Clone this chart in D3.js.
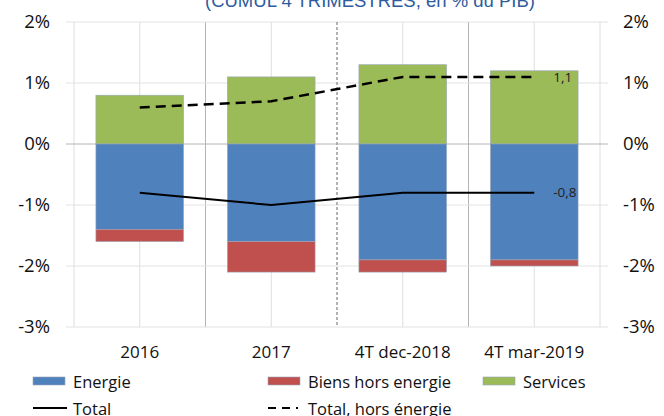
<!DOCTYPE html>
<html>
<head>
<meta charset="utf-8">
<script src="https://cdn.jsdelivr.net/npm/d3@7"></script>
<style>
  body { margin: 0; background: #fff; }
  svg text { font-family: "Open Sans", Lato, sans-serif; }
</style>
</head>
<body>
<div id="chart"></div>
<script>
var categories = ['2016', '2017', '4T dec-2018', '4T mar-2019']
var energie = [-1.4, -1.6, -1.9, -1.9]
var biens = [-0.2, -0.5, -0.2, -0.1]
var services = [0.8, 1.1, 1.3, 1.2]
var total = [-0.8, -1.0, -0.8, -0.8]
var totalHorsEnergie = [0.6, 0.7, 1.1, 1.1]
var yTicks = [2, 1, 0, -1, -2, -3]

var COLOR = { BLUE: '#4f81bd', RED: '#c0504d', GREEN: '#9bbb59' }

var width = 664, height = 416
var left = 74, right = 600

var svg = d3.select('#chart').append('svg')
  .attr('width', width)
  .attr('height', height)

var x = d3.scaleBand()
  .domain(categories)
  .range([left, right])
  .paddingInner(1 / 3)
  .paddingOuter(1 / 6)

var y = d3.scaleLinear()
  .domain([-3, 2])
  .range([327, 22])

var step = x.step()
var cx = d => x(d) + x.bandwidth() / 2

// title (cut at top, like the source)
svg.append('text')
  .attr('x', 370)
  .attr('y', 7)
  .attr('text-anchor', 'middle')
  .style('font-family', '"Liberation Sans", Arial, sans-serif')
  .attr('font-size', 18.5)
  .attr('fill', '#2e5c9e')
  .text('(CUMUL 4 TRIMESTRES, en % du PIB)')

// vertical grid
var vlines = d3.range(0, categories.length * 2 + 1).map(i => left + i * step / 2)
svg.selectAll('.vgrid')
  .data(vlines)
  .enter()
  .append('line')
  .attr('x1', d => d).attr('x2', d => d)
  .attr('y1', y(2)).attr('y2', y(-3))
  .attr('stroke', (d, i) => (i === 2 || i === 6) ? '#b4b4b4' : '#dedede')
  .attr('stroke-width', 1)
  .style('display', (d, i) => i === 4 ? 'none' : null)

// horizontal grid
svg.selectAll('.hgrid')
  .data(yTicks)
  .enter()
  .append('line')
  .attr('x1', left - 8).attr('x2', right + 8)
  .attr('y1', d => y(d)).attr('y2', d => y(d))
  .attr('stroke', d => d === 0 ? '#b4b4b4' : '#e2e2e2')
  .attr('stroke-width', 1)

// separator between years and quarters
svg.append('line')
  .attr('x1', left + step * 2).attr('x2', left + step * 2)
  .attr('y1', y(2)).attr('y2', y(-3))
  .attr('stroke', '#9a9a9a')
  .attr('stroke-width', 1.5)
  .attr('stroke-dasharray', '3,2')

// bars
function stack(vals, base, color) {
  svg.selectAll(null)
    .data(categories)
    .enter()
    .append('rect')
    .attr('x', d => x(d))
    .attr('width', x.bandwidth())
    .attr('y', (d, i) => y(Math.max(base ? base[i] : 0, (base ? base[i] : 0) + vals[i])))
    .attr('height', (d, i) => Math.abs(y(0) - y(vals[i])))
    .attr('fill', color)
    .attr('stroke', '#9aa6b8')
    .attr('stroke-width', 0.6)
}
stack(services, null, COLOR.GREEN)
stack(energie, null, COLOR.BLUE)
stack(biens, energie, COLOR.RED)

// lines
var line = d3.line()
  .x((d, i) => cx(categories[i]))
  .y(d => y(d))

svg.append('path')
  .datum(totalHorsEnergie)
  .attr('d', line)
  .attr('fill', 'none')
  .attr('stroke', '#000')
  .attr('stroke-width', 2.5)
  .attr('stroke-dasharray', '10,6')

svg.append('path')
  .datum(total)
  .attr('d', line)
  .attr('fill', 'none')
  .attr('stroke', '#000')
  .attr('stroke-width', 2)

// end labels
var last = categories.length - 1
svg.append('text')
  .attr('x', cx(categories[last]) + 19)
  .attr('y', y(totalHorsEnergie[last]) + 5)
  .attr('font-size', 13.5)
  .attr('fill', '#222')
  .text('1,1')
svg.append('text')
  .attr('x', cx(categories[last]) + 19)
  .attr('y', y(total[last]) + 4)
  .attr('font-size', 13.5)
  .attr('fill', '#222')
  .text('-0,8')

// y axis labels
var fmt = d => d + '%'
svg.selectAll('.ylabL')
  .data(yTicks)
  .enter()
  .append('text')
  .attr('x', 50)
  .attr('y', d => y(d) + 6)
  .attr('text-anchor', 'end')
  .attr('font-size', 18.5)
  .attr('fill', '#111')
  .text(fmt)
svg.selectAll('.ylabR')
  .data(yTicks)
  .enter()
  .append('text')
  .attr('x', 623)
  .attr('y', d => y(d) + 6)
  .attr('font-size', 18.5)
  .attr('fill', '#111')
  .text(fmt)

// category labels
svg.selectAll('.xlab')
  .data(categories)
  .enter()
  .append('text')
  .attr('x', cx)
  .attr('y', 358)
  .attr('text-anchor', 'middle')
  .attr('font-size', 17)
  .attr('fill', '#111')
  .text(d => d)

// legend
var legendBars = [
  { name: 'Energie', color: COLOR.BLUE, x: 33 },
  { name: 'Biens hors energie', color: COLOR.RED, x: 268 },
  { name: 'Services', color: COLOR.GREEN, x: 483 }
]
legendBars.forEach(function (d) {
  svg.append('rect')
    .attr('x', d.x).attr('y', 377)
    .attr('width', 32).attr('height', 8)
    .attr('fill', d.color)
    .attr('stroke', '#9aa6b8').attr('stroke-width', 0.6)
  svg.append('text')
    .attr('x', d.x + 40).attr('y', 388)
    .attr('font-size', 16.5)
    .attr('fill', '#111')
    .text(d.name)
})
svg.append('line')
  .attr('x1', 33).attr('x2', 67)
  .attr('y1', 408).attr('y2', 408)
  .attr('stroke', '#000').attr('stroke-width', 2)
svg.append('text')
  .attr('x', 73).attr('y', 415)
  .attr('font-size', 16.5).attr('fill', '#111')
  .text('Total')
svg.append('line')
  .attr('x1', 268).attr('x2', 298)
  .attr('y1', 408).attr('y2', 408)
  .attr('stroke', '#000').attr('stroke-width', 2)
  .attr('stroke-dasharray', '8,6')
svg.append('text')
  .attr('x', 308).attr('y', 415)
  .attr('font-size', 16.5).attr('fill', '#111')
  .text('Total, hors énergie')
</script>
</body>
</html>
